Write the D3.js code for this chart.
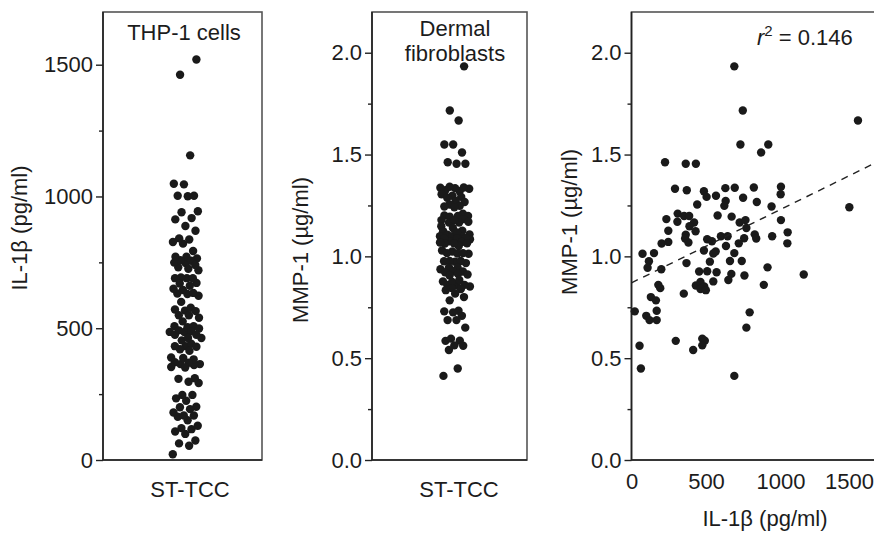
<!DOCTYPE html>
<html><head><meta charset="utf-8">
<script src="https://cdn.jsdelivr.net/npm/d3@7"></script>
<style>
body{margin:0;background:#fff}
text{font-family:"Liberation Sans",Arial,Helvetica,sans-serif;fill:#1c1c1c}
</style></head>
<body><svg id="c" width="874" height="533"></svg>
<script>
// ---- data ----
const il1b = [690,747,1520,731,918,870,225,364,432,292,371,486,630,693,821,1003,1001,504,567,749,
  632,841,441,623,940,1462,310,353,387,578,672,234,308,420,726,765,1003,389,771,247,
  430,364,600,645,827,944,1048,360,508,540,756,837,202,247,382,634,720,1046,486,565,
  74,151,549,690,117,369,526,661,740,108,200,913,454,508,571,670,1156,758,180,432,
  463,488,549,650,888,193,463,499,351,130,164,22,169,793,99,121,169,771,297,475,
  492,475,414,54,63,690];
const mmp1 = [1.933,1.716,1.667,1.549,1.549,1.510,1.462,1.455,1.455,1.332,1.325,1.320,1.335,1.337,1.338,1.342,1.305,1.292,1.298,1.288,
  1.272,1.267,1.255,1.248,1.245,1.241,1.210,1.198,1.198,1.201,1.195,1.183,1.170,1.166,1.166,1.178,1.178,1.148,1.139,1.126,
  1.123,1.106,1.099,1.099,1.108,1.099,1.118,1.088,1.084,1.074,1.089,1.088,1.063,1.071,1.068,1.051,1.064,1.064,1.029,1.024,
  1.013,1.016,1.014,1.016,0.976,0.967,0.974,0.977,0.977,0.944,0.937,0.946,0.926,0.927,0.922,0.914,0.911,0.906,0.860,0.857,
  0.874,0.852,0.877,0.884,0.860,0.844,0.840,0.834,0.817,0.800,0.784,0.730,0.733,0.725,0.708,0.687,0.687,0.650,0.585,0.596,
  0.586,0.563,0.540,0.561,0.449,0.413];
const il1bTicks = [0,500,1000,1500];
const il1bMinor = [250,750,1250];
const mmpTicks = [0,0.5,1.0,1.5,2.0];
const mmpMinor = [0.25,0.75,1.25,1.75];
const regression = {intercept:0.87, slope:0.00036};
const categoryLabel = "ST-TCC";

const svg = d3.select("#c");
const TOP = 12, BOT = 460, FS = 22;
const frameColor = "#555", axisColor = "#222", dotColor = "#1a1a1a";

const yIL = d3.scaleLinear().domain([0,1700]).range([BOT,TOP]);
const yMMP = d3.scaleLinear().domain([0,2.2]).range([BOT,TOP]);
const xIL = d3.scaleLinear().domain([0,1700]).range([631.5,884.8]);

function frame(x0,x1){
  svg.append("rect").attr("x",x0).attr("y",TOP).attr("width",x1-x0).attr("height",BOT-TOP)
    .attr("fill","none").attr("stroke",frameColor).attr("stroke-width",1.6);
  svg.append("path").attr("d",`M${x0},${TOP}V${BOT}H${x1}`).attr("fill","none")
    .attr("stroke",axisColor).attr("stroke-width",1.6);
}
function yAxis(x0, scale, ticks, minor, fmt){
  const g = svg.append("g").attr("transform",`translate(${x0},0)`)
    .call(d3.axisLeft(scale).tickValues(ticks).tickSize(7).tickPadding(3).tickFormat(fmt));
  g.select(".domain").remove();
  g.selectAll("line").attr("stroke",axisColor).attr("stroke-width",1.4);
  g.selectAll("text").attr("font-size",FS).attr("fill","#1c1c1c").attr("font-family","Liberation Sans, Arial, sans-serif");
  const m = svg.append("g").attr("transform",`translate(${x0},0)`)
    .call(d3.axisLeft(scale).tickValues(minor).tickSize(4).tickFormat(""));
  m.select(".domain").remove();
  m.selectAll("line").attr("stroke",axisColor).attr("stroke-width",1.4);
}
// strip-chart layout: spread points across a band of width 2*half, ordered by value,
// then relax overlaps with a light collision force (y positions stay fixed on the scale)
function strip(values, scale, cx, half, r){
  const nodes = values.map(v=>({fy: scale(v)}));
  const order = d3.range(values.length).sort((a,b)=>values[a]-values[b]);
  order.forEach((idx,rank)=>{ nodes[idx].x = cx + (((rank*0.6180339887)%1)-0.5)*2*half; });
  const sim = d3.forceSimulation(nodes)
    .force("x", d3.forceX(cx).strength(0.004))
    .force("c", d3.forceCollide(r).iterations(1))
    .stop();
  for(let i=0;i<60;i++){
    sim.tick();
    nodes.forEach(n=>{ n.x = Math.max(cx-half-1, Math.min(cx+half+1, n.x)); });
  }
  return nodes;
}
function dots(nodes){
  svg.append("g").selectAll("circle").data(nodes).join("circle")
    .attr("cx",d=>d.x).attr("cy",d=>d.fy).attr("r",4.2).attr("fill",dotColor);
}
function ylabel(x,y,txt){
  svg.append("text").attr("transform",`translate(${x},${y}) rotate(-90)`)
    .attr("text-anchor","middle").attr("font-size",FS).text(txt);
}

// ---- Panel 1: THP-1 cells ----
const p1 = {x0:103, x1:262, cx:186};
frame(p1.x0,p1.x1);
yAxis(p1.x0, yIL, il1bTicks, il1bMinor, d3.format("d"));
dots(strip(il1b, yIL, p1.cx, 16, 3.0));
svg.append("text").attr("x",184).attr("y",40).attr("text-anchor","middle").attr("font-size",FS).text("THP-1 cells");
svg.append("text").attr("x",190).attr("y",497).attr("text-anchor","middle").attr("font-size",FS).text(categoryLabel);
ylabel(27,228,"IL-1β (pg/ml)");

// ---- Panel 2: Dermal fibroblasts ----
const p2 = {x0:372, x1:527, cx:455};
frame(p2.x0,p2.x1);
yAxis(p2.x0, yMMP, mmpTicks, mmpMinor, d3.format(".1f"));
dots(strip(mmp1, yMMP, p2.cx, 14, 2.8));
svg.append("text").attr("x",455).attr("y",36).attr("text-anchor","middle").attr("font-size",FS).text("Dermal");
svg.append("text").attr("x",455).attr("y",61).attr("text-anchor","middle").attr("font-size",FS).text("fibroblasts");
svg.append("text").attr("x",459).attr("y",497).attr("text-anchor","middle").attr("font-size",FS).text(categoryLabel);
ylabel(308,250,"MMP-1 (µg/ml)");

// ---- Panel 3: scatter ----
const p3 = {x0:631.5, x1:884.8};
frame(p3.x0,p3.x1);
yAxis(p3.x0, yMMP, mmpTicks, mmpMinor, d3.format(".1f"));
const gx = svg.append("g").attr("transform",`translate(0,${BOT})`)
  .call(d3.axisBottom(xIL).tickValues(il1bTicks).tickSize(0).tickPadding(13).tickFormat(d3.format("d")));
gx.select(".domain").remove();
gx.selectAll("text").attr("font-size",FS).attr("fill","#1c1c1c").attr("font-family","Liberation Sans, Arial, sans-serif")
  .attr("dx",(d,i,n)=> i===n.length-1 ? -6 : 0);
const pts = il1b.map((v,i)=>({x:v,y:mmp1[i]}));
svg.append("g").selectAll("circle").data(pts).join("circle")
  .attr("cx",d=>xIL(d.x)).attr("cy",d=>yMMP(d.y)).attr("r",4.2).attr("fill",dotColor);
const regX = [0,1700];
svg.append("line")
  .attr("x1",xIL(regX[0])).attr("y1",yMMP(regression.intercept+regression.slope*regX[0]))
  .attr("x2",xIL(regX[1])).attr("y2",yMMP(regression.intercept+regression.slope*regX[1]))
  .attr("stroke","#222").attr("stroke-width",1.4).attr("stroke-dasharray","7,6");
const r2 = svg.append("text").attr("x",757).attr("y",45).attr("font-size",FS);
r2.append("tspan").attr("font-style","italic").text("r");
r2.append("tspan").attr("font-size",15).attr("dy",-9).text("2");
r2.append("tspan").attr("dy",9).text(" = 0.146");
svg.append("text").attr("x",765).attr("y",526).attr("text-anchor","middle").attr("font-size",FS).text("IL-1β (pg/ml)");
ylabel(577,222,"MMP-1 (µg/ml)");
</script></body></html>
